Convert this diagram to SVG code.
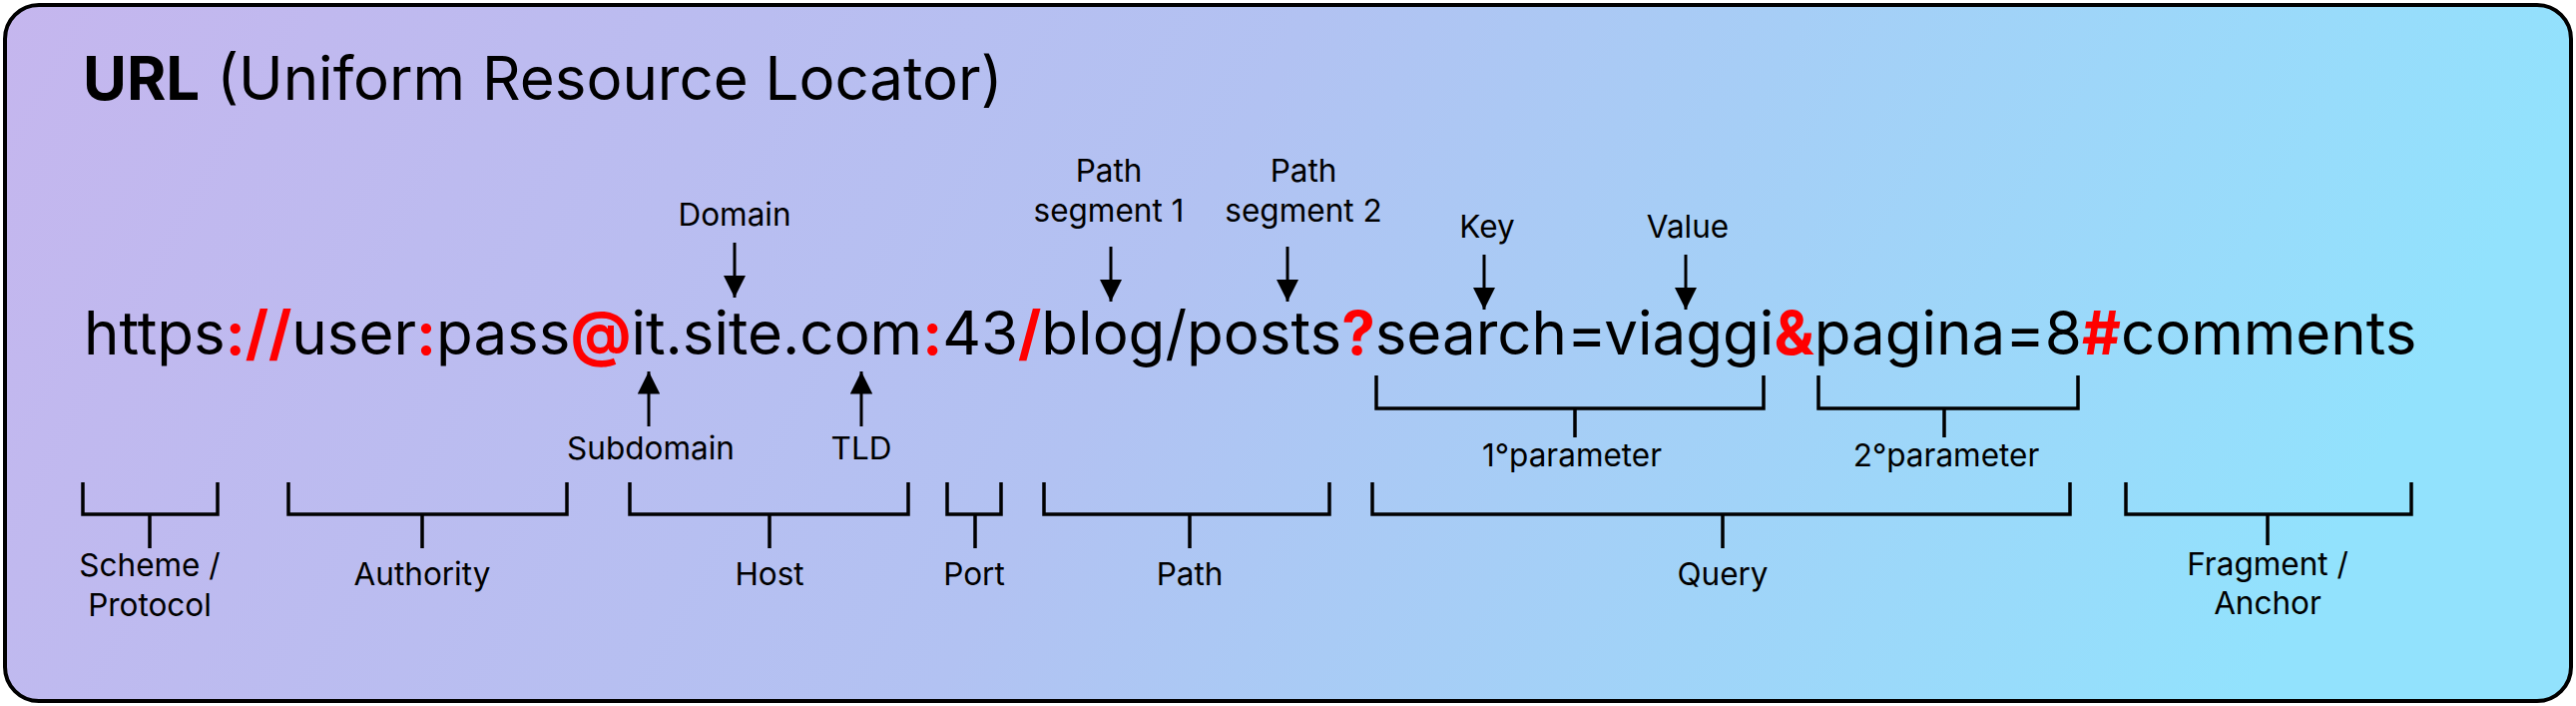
<svg xmlns="http://www.w3.org/2000/svg" width="2581" height="707" viewBox="0 0 2581 707">
<defs>
<linearGradient id="bg" x1="0" y1="0" x2="1" y2="0.15">
<stop offset="0" stop-color="#c5b6ee"/>
<stop offset="0.5" stop-color="#b2c2f2"/>
<stop offset="1" stop-color="#92e2fd"/>
</linearGradient>
<marker id="ah" viewBox="0 0 10 10" refX="10" refY="5" markerWidth="7.5" markerHeight="7.5" markerUnits="strokeWidth" orient="auto">
<path d="M0,0 L10,5 L0,10 z" fill="#000"/>
</marker>
<style>
.t{font-family:Inter,"Noto Sans",sans-serif;fill:#000}
.lbl{font-family:Inter,"Noto Sans",sans-serif;font-size:31.5px;fill:#000;text-anchor:middle}
.r{fill:#ff0000;font-weight:700}
.br{fill:none;stroke:#000;stroke-width:3.5}
.ar{fill:none;stroke:#000;stroke-width:3;marker-end:url(#ah)}
</style>
</defs>
<rect x="5" y="5" width="2571" height="697" rx="34" fill="url(#bg)" stroke="#000" stroke-width="4"/>
<g id="title">
<text class="t" x="83" y="100" font-size="60"><tspan font-weight="700">URL</tspan> (Uniform Resource Locator)</text>
</g>
<g id="url">
<text class="t" x="84" y="355" font-size="60">https<tspan class="r">://</tspan>user<tspan class="r">:</tspan>pass<tspan class="r">@</tspan>it.site.com<tspan class="r">:</tspan>43<tspan class="r">/</tspan>blog/posts<tspan class="r">?</tspan>search=viaggi<tspan class="r">&amp;</tspan>pagina=8<tspan class="r">#</tspan>comments</text>
</g>
<g id="domain"><text class="lbl" x="736" y="226">Domain</text></g>
<g id="subdomain"><text class="lbl" x="652" y="460">Subdomain</text></g>
<g id="tld"><text class="lbl" x="863" y="460">TLD</text></g>
<g id="pathseg1"><text class="lbl" x="1111" y="182">Path</text><text class="lbl" x="1111" y="222">segment 1</text></g>
<g id="pathseg2"><text class="lbl" x="1306" y="182">Path</text><text class="lbl" x="1306" y="222">segment 2</text></g>
<g id="key"><text class="lbl" x="1490" y="238">Key</text></g>
<g id="value"><text class="lbl" x="1691" y="238">Value</text></g>
<g id="param1"><text class="lbl" x="1575" y="467">1°parameter</text></g>
<g id="param2"><text class="lbl" x="1950" y="467">2°parameter</text></g>
<g id="scheme"><text class="lbl" x="150" y="577">Scheme /</text><text class="lbl" x="150" y="617">Protocol</text></g>
<g id="authority"><text class="lbl" x="423" y="586">Authority</text></g>
<g id="host"><text class="lbl" x="771" y="586">Host</text></g>
<g id="port"><text class="lbl" x="976" y="586">Port</text></g>
<g id="path"><text class="lbl" x="1192" y="586">Path</text></g>
<g id="query"><text class="lbl" x="1726" y="586">Query</text></g>
<g id="fragment"><text class="lbl" x="2272" y="576">Fragment /</text><text class="lbl" x="2272" y="615">Anchor</text></g>
<g id="connectors">
<path class="ar" d="M736,243 V298"/>
<path class="ar" d="M650,427 V372"/>
<path class="ar" d="M863,427 V372"/>
<path class="ar" d="M1113,247 V302"/>
<path class="ar" d="M1290,247 V302"/>
<path class="ar" d="M1487,255 V310"/>
<path class="ar" d="M1689,255 V310"/>
<path class="br" d="M1379,376 V409 H1767 V376 M1578,409 V438"/>
<path class="br" d="M1822,376 V409 H2082 V376 M1948,409 V438"/>
<path class="br" d="M83,483 V515 H218 V483 M150,515 V549"/>
<path class="br" d="M289,483 V515 H568 V483 M423,515 V549"/>
<path class="br" d="M631,483 V515 H910 V483 M771,515 V549"/>
<path class="br" d="M949,483 V515 H1003 V483 M977,515 V549"/>
<path class="br" d="M1046,483 V515 H1332 V483 M1192,515 V549"/>
<path class="br" d="M1375,483 V515 H2074 V483 M1726,515 V549"/>
<path class="br" d="M2130,483 V515 H2416 V483 M2272,515 V546"/>
</g>
</svg>
